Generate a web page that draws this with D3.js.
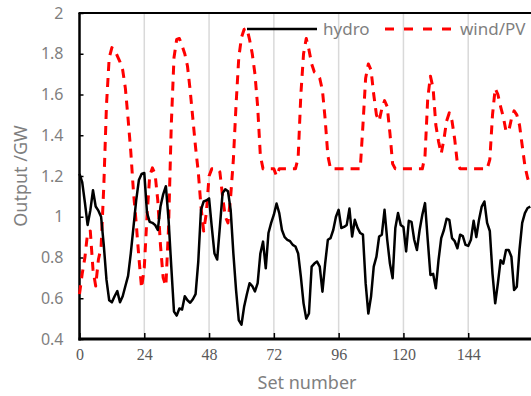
<!DOCTYPE html>
<html>
<head>
<meta charset="utf-8">
<script src="https://cdn.jsdelivr.net/npm/d3@7"></script>
<style>
  html, body { margin: 0; padding: 0; background: #fff; }
  svg { display: block; }
</style>
</head>
<body>
<svg id="chart" width="531" height="396"></svg>
<script>
// ---- data ----
const hydro = [
  1.21, 1.17, 1.07, 0.96, 1.03, 1.13, 1.05, 1.03, 1.00, 0.86,
  0.69, 0.59, 0.58, 0.61, 0.635, 0.58, 0.61, 0.66, 0.71, 0.82,
  0.95, 1.08, 1.18, 1.21, 1.215, 1.02, 0.975, 0.97, 0.96, 0.935,
  1.05, 1.11, 1.15, 0.985, 0.755, 0.535, 0.515, 0.55, 0.545, 0.61,
  0.59, 0.578, 0.595, 0.62, 0.78, 1.034, 1.075, 1.08, 1.09, 0.95,
  0.82, 0.79, 0.95, 1.116, 1.135, 1.125, 1.034, 0.82, 0.64, 0.493,
  0.47, 0.56, 0.62, 0.674, 0.66, 0.634, 0.674, 0.82, 0.878, 0.747,
  0.92, 0.97, 1.01, 1.065, 1.018, 0.935, 0.9, 0.887, 0.88, 0.862,
  0.854, 0.82, 0.706, 0.575, 0.50, 0.525, 0.755, 0.77, 0.78, 0.755,
  0.632, 0.77, 0.887, 0.895, 0.935, 1.0, 1.034, 0.945, 0.95, 0.96,
  1.04, 0.903, 0.985, 0.945, 0.92, 0.912, 0.674, 0.525, 0.608, 0.755,
  0.804, 0.903, 0.912, 1.034, 0.887, 0.77, 0.698, 0.945, 1.018, 0.96,
  0.95, 0.83, 0.98, 0.975, 0.887, 0.837, 0.935, 1.01, 1.067, 0.887,
  0.714, 0.72, 0.649, 0.787, 0.895, 0.935, 0.99, 0.985, 0.895, 0.88,
  0.845, 0.912, 0.905, 0.862, 0.857, 0.887, 0.98, 0.9, 0.985, 1.05,
  1.075, 0.97, 0.93, 0.72, 0.575, 0.674, 0.787, 0.77, 0.837, 0.837,
  0.804, 0.64, 0.657, 0.837, 0.97, 1.018, 1.043, 1.05
];
const windPV = [
  0.62, 0.72, 0.80, 0.92, 0.93, 0.74, 0.66, 0.79, 0.85, 1.15,
  1.55, 1.78, 1.83, 1.82, 1.79, 1.76, 1.72, 1.63, 1.48, 1.32,
  1.12, 0.97, 0.80, 0.65, 0.75, 1.0, 1.2, 1.24, 1.21, 1.08,
  0.86, 0.70, 0.66, 0.95, 1.45, 1.78, 1.87, 1.875, 1.84, 1.80,
  1.74, 1.62, 1.48, 1.34, 1.22, 1.05, 0.93, 1.02, 1.20, 1.235,
  1.235, 1.235, 1.22, 1.10, 1.00, 0.97, 1.10, 1.28, 1.55, 1.78,
  1.88, 1.92, 1.925, 1.87, 1.80, 1.70, 1.54, 1.30, 1.235, 1.235,
  1.235, 1.235, 1.235, 1.20, 1.235, 1.235, 1.235, 1.235, 1.235, 1.235,
  1.235, 1.29, 1.60, 1.80, 1.875, 1.82, 1.75, 1.71, 1.70, 1.68,
  1.62, 1.48, 1.30, 1.235, 1.235, 1.235, 1.235, 1.235, 1.235, 1.235,
  1.235, 1.235, 1.235, 1.235, 1.235, 1.45, 1.68, 1.75, 1.72, 1.60,
  1.50, 1.47, 1.53, 1.57, 1.54, 1.41, 1.26, 1.235, 1.235, 1.235,
  1.235, 1.235, 1.235, 1.235, 1.235, 1.235, 1.235, 1.235, 1.30, 1.58,
  1.69, 1.63, 1.45, 1.37, 1.31, 1.38, 1.47, 1.51, 1.47, 1.38,
  1.26, 1.235, 1.235, 1.235, 1.235, 1.235, 1.235, 1.235, 1.235, 1.235,
  1.235, 1.235, 1.28, 1.50, 1.63, 1.60, 1.54, 1.49, 1.42, 1.42,
  1.48, 1.52, 1.50, 1.45, 1.35, 1.25, 1.19, 1.15
];
const xTicks = [0, 24, 48, 72, 96, 120, 144];
const yTicks = [0.4, 0.6, 0.8, 1.0, 1.2, 1.4, 1.6, 1.8, 2.0];
const seriesNames = ["hydro", "wind/PV"];
const xTitle = "Set number";
const yTitle = "Output /GW";

// ---- layout ----
const svg = d3.select("#chart");
const mLeft = 79.5, mRight = 533, mTop = 13, mBottom = 339;

const x = d3.scaleLinear().domain([0, 168]).range([mLeft, mRight]);
const y = d3.scaleLinear().domain([0.4, 2.0]).range([mBottom, mTop]);

const sans = "'Noto Sans', 'Open Sans', sans-serif";
const serif = "'Liberation Serif', 'DejaVu Serif', serif";

// vertical gridlines
svg.append("g")
  .selectAll("line")
  .data(xTicks.filter(d => d > 0))
  .join("line")
  .attr("x1", d => x(d)).attr("x2", d => x(d))
  .attr("y1", mTop).attr("y2", mBottom)
  .attr("stroke", "#d9d9d9")
  .attr("stroke-width", 1.5);

// x axis
const xAxis = svg.append("g")
  .attr("transform", `translate(0,${mBottom})`)
  .call(d3.axisBottom(x).tickValues(xTicks).tickSizeInner(-6).tickSizeOuter(0).tickPadding(10)
        .tickFormat(d3.format("d")));
xAxis.select(".domain").remove();
xAxis.selectAll(".tick line").attr("stroke", "#000").attr("stroke-width", 1.5);
xAxis.selectAll(".tick text")
  .attr("font-family", serif).attr("font-size", 16).attr("fill", "#595959");

// y axis
const yAxis = svg.append("g")
  .attr("transform", `translate(${mLeft},0)`)
  .call(d3.axisLeft(y).tickValues(yTicks).tickSizeInner(-4).tickSizeOuter(0).tickPadding(16)
        .tickFormat(d => String(+d.toFixed(1))));
yAxis.select(".domain").remove();
yAxis.selectAll(".tick line").attr("stroke", "#000").attr("stroke-width", 1.5);
yAxis.selectAll(".tick text")
  .attr("font-family", sans).attr("font-size", 16).attr("fill", "#7f7f7f");

// frame lines: left, bottom, top
svg.append("line").attr("x1", mLeft).attr("x2", mLeft).attr("y1", mTop).attr("y2", mBottom + 1.5)
  .attr("stroke", "#000").attr("stroke-width", 2.5);
svg.append("line").attr("x1", mLeft - 1).attr("x2", 531).attr("y1", mBottom).attr("y2", mBottom)
  .attr("stroke", "#000").attr("stroke-width", 3);
svg.append("line").attr("x1", mLeft - 1).attr("x2", 531).attr("y1", mTop).attr("y2", mTop)
  .attr("stroke", "#000").attr("stroke-width", 2);

// lines
const line = d3.line().x((d, i) => x(i)).y(d => y(d));

svg.append("path")
  .datum(windPV)
  .attr("d", line)
  .attr("fill", "none")
  .attr("stroke", "#ff0000")
  .attr("stroke-width", 3)
  .attr("stroke-dasharray", "9,7")
  .attr("stroke-linejoin", "round");

svg.append("path")
  .datum(hydro)
  .attr("d", line)
  .attr("fill", "none")
  .attr("stroke", "#000")
  .attr("stroke-width", 2.5)
  .attr("stroke-linejoin", "round");

// legend
const lg = svg.append("g");
lg.append("line").attr("x1", 247).attr("x2", 317).attr("y1", 29).attr("y2", 29)
  .attr("stroke", "#000").attr("stroke-width", 2.5);
lg.append("text").attr("x", 323).attr("y", 35).text(seriesNames[0])
  .attr("font-family", sans).attr("font-size", 17).attr("fill", "#7f7f7f");
lg.append("line").attr("x1", 385).attr("x2", 452).attr("y1", 29).attr("y2", 29)
  .attr("stroke", "#ff0000").attr("stroke-width", 3).attr("stroke-dasharray", "9,10");
lg.append("text").attr("x", 460).attr("y", 35).text(seriesNames[1])
  .attr("font-family", sans).attr("font-size", 17).attr("fill", "#7f7f7f");

// axis titles
svg.append("text")
  .attr("x", 307).attr("y", 389)
  .attr("text-anchor", "middle")
  .attr("font-family", sans).attr("font-size", 18).attr("fill", "#7f7f7f")
  .text(xTitle);
svg.append("text")
  .attr("transform", `translate(27,176) rotate(-90)`)
  .attr("text-anchor", "middle")
  .attr("font-family", sans).attr("font-size", 18).attr("fill", "#7f7f7f")
  .text(yTitle);
</script>
</body>
</html>
